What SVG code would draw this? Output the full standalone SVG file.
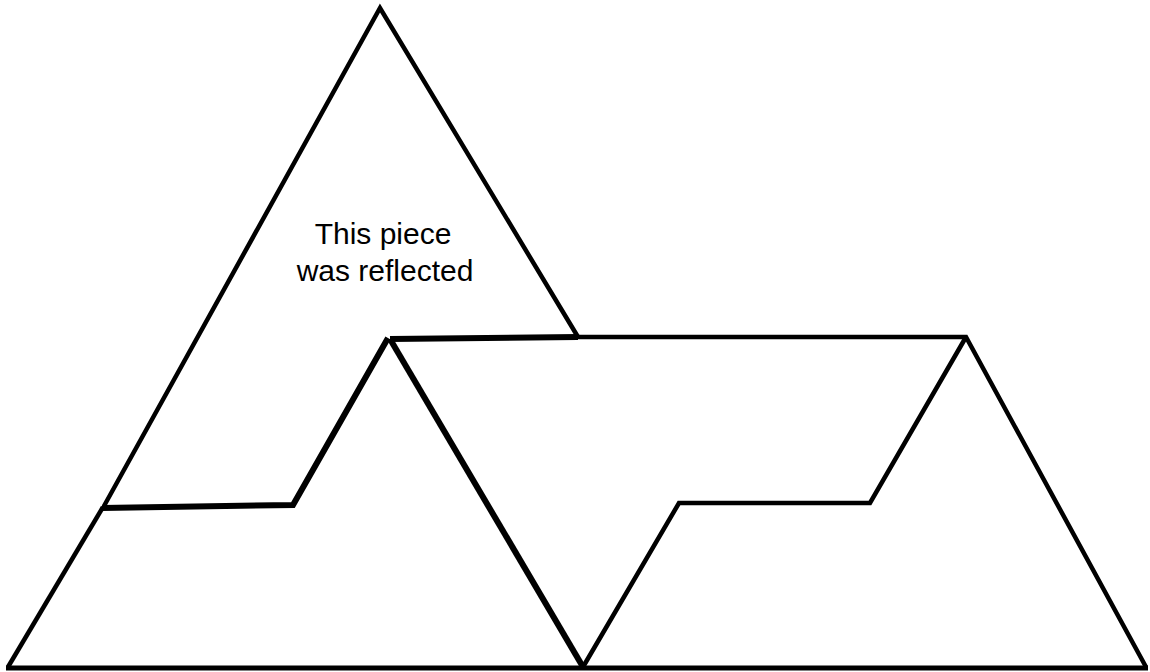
<svg xmlns="http://www.w3.org/2000/svg" width="1150" height="672" viewBox="0 0 1150 672">
<style>
.ln{fill:none;stroke:#000;stroke-width:4.5;stroke-linejoin:miter;stroke-linecap:butt}
.bd{fill:none;stroke:#000;stroke-width:6;stroke-linejoin:miter}
.tx{font-family:"Liberation Sans",Arial,sans-serif;font-size:30px;fill:#000;text-anchor:middle}
</style>
<rect width="1150" height="672" fill="#fff"/>
<g id="reflected-piece">
<polyline class="ln" points="104,506 380,8 578,337"/>
<polyline class="bd" points="102,508 293,505 388,338"/>
<text class="tx" x="383" y="244">This piece</text>
<text class="tx" x="385" y="281">was reflected</text>
</g>
<g id="left-piece">
<polyline class="ln" points="103,507 8,667"/>
<polyline class="bd" points="390,339 583,667"/>
</g>
<g id="right-piece">
<polyline class="bd" points="390,339 578,337"/>
<polyline class="ln" points="578,337 966,337 1146,667"/>
<polyline class="ln" points="583,667 679,503 870,503 966,337"/>
</g>
<g id="connectors">
<line x1="6" y1="668" x2="1148" y2="668" stroke="#000" stroke-width="5"/>
</g>
</svg>
